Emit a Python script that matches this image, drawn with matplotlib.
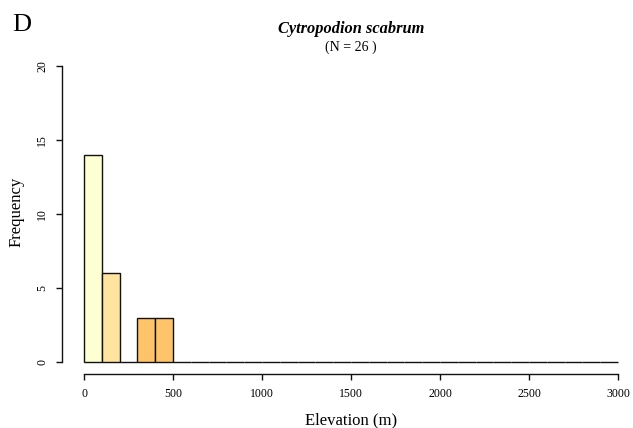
import matplotlib
matplotlib.use("Agg")
import matplotlib.pyplot as plt
import numpy as np

plt.rcParams['font.family'] = ['Liberation Serif', 'DejaVu Serif']

bin_width = 100
bin_starts = list(range(0, 3000, 100))
counts = [14, 6, 0, 3, 3] + [0] * 25
bar_colors = ['#FFFFD4', '#FFE4A0', '#FFD584', '#FFC46A', '#FFC46A'] + ['#FEB24C'] * 25
x_ticks = [0, 500, 1000, 1500, 2000, 2500, 3000]
y_ticks = [0, 5, 10, 15, 20]
title = "Cytropodion scabrum"
subtitle = "(N = 26 )"
panel = "D"

W, H = 633, 428
fig = plt.figure(figsize=(W / 100, H / 100), dpi=100)
x0, x1 = 84, 618
y0, y1 = 362, 66
ax = fig.add_axes([x0 / W, (H - y0) / H, (x1 - x0) / W, (y0 - y1) / H])

ax.bar(bin_starts, counts, width=bin_width, align='edge', color=bar_colors,
       edgecolor='#111111', linewidth=1.0, clip_on=False)

ax.set_xlim(0, 3000)
ax.set_ylim(0, 20)
for s in ['top', 'right']:
    ax.spines[s].set_visible(False)
px = 72 / 100
ax.spines['left'].set_position(('outward', 22 * px))
ax.spines['bottom'].set_position(('outward', 12 * px))
ax.spines['left'].set_bounds(0, 20)
ax.spines['bottom'].set_bounds(0, 3000)
for s in ['left', 'bottom']:
    ax.spines[s].set_linewidth(1.0)
    ax.spines[s].set_color('#111111')

ax.set_xticks(x_ticks)
ax.set_xticklabels([str(v) for v in x_ticks], fontsize=8.5)
ax.set_yticks(y_ticks)
ax.set_yticklabels([str(v) for v in y_ticks], fontsize=8.5, rotation=90, va='center')
ax.tick_params(axis='both', length=6 * px, width=1.0, color='#111111')
ax.tick_params(axis='x', pad=8 * px)
ax.tick_params(axis='y', pad=8 * px)

ax.set_xlabel("Elevation (m)", fontsize=12)
ax.xaxis.set_label_coords(0.5, -(420 - y0) / (y0 - y1), transform=ax.transAxes)
ax.xaxis.label.set_va('center')
ax.set_ylabel("Frequency", fontsize=12)
ax.yaxis.set_label_coords((17 - x0) / (x1 - x0), (y0 - 212) / (y0 - y1), transform=ax.transAxes)
ax.yaxis.label.set_va('center')

fig.text(351 / W, 1 - 29 / H, title, ha='center', va='center', fontsize=11.8,
         fontweight='bold', fontstyle='italic')
fig.text(351 / W, 1 - 47 / H, subtitle, ha='center', va='center', fontsize=10)
fig.text(22 / W, 1 - 25 / H, panel, ha='center', va='center', fontsize=19)

fig.savefig("out.png", dpi=100)
